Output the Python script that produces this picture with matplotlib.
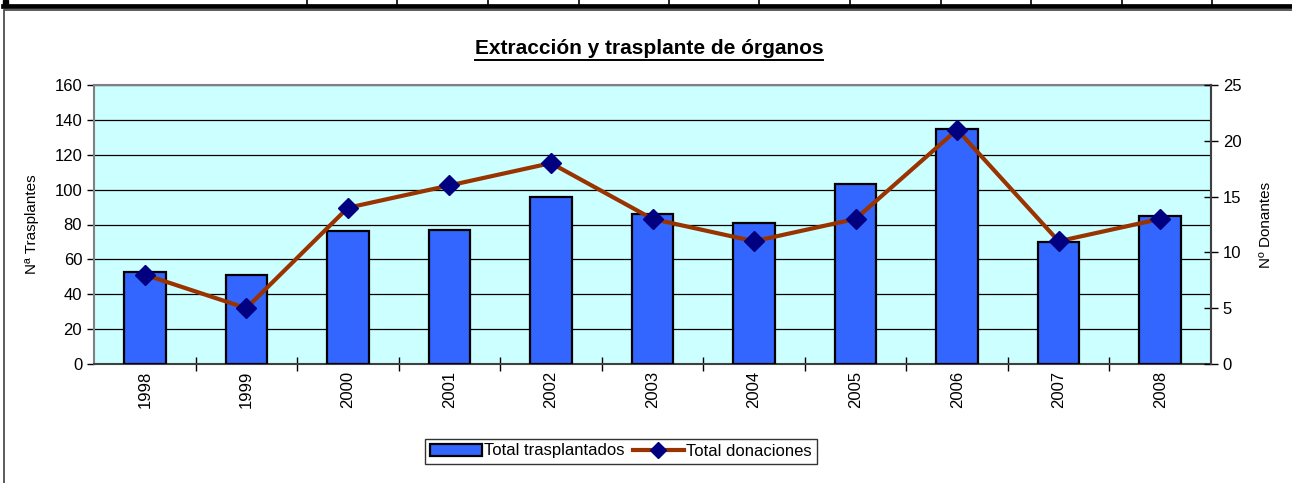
import numpy as np
import matplotlib as mpl
mpl.use('Agg')
import matplotlib.pyplot as plt
from matplotlib.lines import Line2D
from matplotlib.patches import Rectangle, Patch

plt.rcParams['font.family'] = ['Liberation Sans', 'DejaVu Sans']

# data
years = ['1998', '1999', '2000', '2001', '2002', '2003', '2004', '2005', '2006', '2007', '2008']
trasplantados = [53, 51, 76, 77, 96, 86, 81, 103, 135, 70, 85]
donaciones = [8, 5, 14, 16, 18, 13, 11, 13, 21, 11, 13]

fig = plt.figure(figsize=(12.92, 4.83), dpi=100)
W, H = 1292.0, 483.0

# table strip at the very top and the chart frame
fig.add_artist(Line2D([3 / W, 1], [1 - 5.5 / H, 1 - 5.5 / H], color='black', lw=3.4,
                      transform=fig.transFigure))
fig.add_artist(Rectangle((3 / W, 1 - 7 / H), 5 / W, 7 / H, color='black',
                         transform=fig.transFigure))
for sx in [307, 397, 488, 579, 669, 759, 850, 941, 1031, 1122, 1212]:
    fig.add_artist(Line2D([sx / W, sx / W], [1 - 5 / H, 1], color='black', lw=1.2,
                          transform=fig.transFigure))
fig.add_artist(Rectangle((3.5 / W, -0.01), 1.2, 1 - 10 / H + 0.01, fill=False,
                         edgecolor='#404040', lw=1.2, transform=fig.transFigure))

ax = fig.add_axes([94 / W, 1 - 364 / H, (1211 - 94) / W, (364 - 85) / H])
ax.set_facecolor('#CCFFFF')
x = np.arange(len(years))
bars = ax.bar(x, trasplantados, width=0.41, color='#3366FF', edgecolor='black',
              linewidth=1.6, zorder=3)
ax.set_xlim(-0.5, len(years) - 0.5)
ax.set_ylim(0, 160)
ax.set_yticks(np.arange(0, 161, 20))
ax.yaxis.grid(True, color='black', lw=0.9, zorder=0)
ax.set_axisbelow(True)
ax.set_xticks(x)
ax.set_xticklabels(years, rotation=90, fontsize=12)
ax.tick_params(axis='x', length=0, pad=5)
ax.set_xticks(np.arange(0.5, len(years) - 0.5, 1), minor=True)
ax.tick_params(axis='x', which='minor', length=10, direction='inout', width=1)
ax.tick_params(axis='y', labelsize=12, length=5, width=1, direction='out')
ax.set_ylabel('Nª Trasplantes', fontsize=11, labelpad=11)
for s in ['top', 'right']:
    ax.spines[s].set_color('#808080')
ax.spines['left'].set_color('#808080')
ax.spines['bottom'].set_color('#404040')
for s in ax.spines.values():
    s.set_linewidth(1.5)

ax2 = ax.twinx()
ax2.plot(x, donaciones, color='#993300', lw=3, marker='D', markersize=10.5,
         markerfacecolor='#000080', markeredgecolor='#000080', zorder=4)
ax2.set_ylim(0, 25)
ax2.set_yticks(np.arange(0, 26, 5))
ax2.tick_params(axis='y', labelsize=12, length=10, width=1, direction='inout')
ax2.set_ylabel('Nº Donantes', fontsize=11, labelpad=13)
ax2.spines['right'].set_color('#404040')
ax2.spines['right'].set_linewidth(1.5)
ax2.spines['top'].set_visible(False)
ax2.spines['left'].set_visible(False)
ax2.spines['bottom'].set_visible(False)

# title with underline
t = fig.text(649 / W, 1 - 48 / H, 'Extracción y trasplante de órganos', ha='center',
             va='center', fontsize=15, fontweight='bold')
fig.canvas.draw()
bb = t.get_window_extent().transformed(fig.transFigure.inverted())
fig.add_artist(Line2D([bb.x0, bb.x1], [1 - 60 / H, 1 - 60 / H], color='black', lw=1.4,
                      transform=fig.transFigure))

handles = [Patch(facecolor='#3366FF', edgecolor='black', linewidth=1.6),
           Line2D([], [], color='#993300', lw=3, marker='D', markersize=8,
                  markerfacecolor='#000080', markeredgecolor='#000080')]
leg = fig.legend(handles, ['Total trasplantados', 'Total donaciones'], ncol=2,
                 loc='center', bbox_to_anchor=(621 / W, 1 - 451 / H), fontsize=12,
                 frameon=True, fancybox=False, edgecolor='black', handlelength=3.1,
                 handletextpad=0.1, columnspacing=0.5, borderpad=0.3)
leg.get_frame().set_linewidth(1)

fig.savefig('out.png', dpi=100)
